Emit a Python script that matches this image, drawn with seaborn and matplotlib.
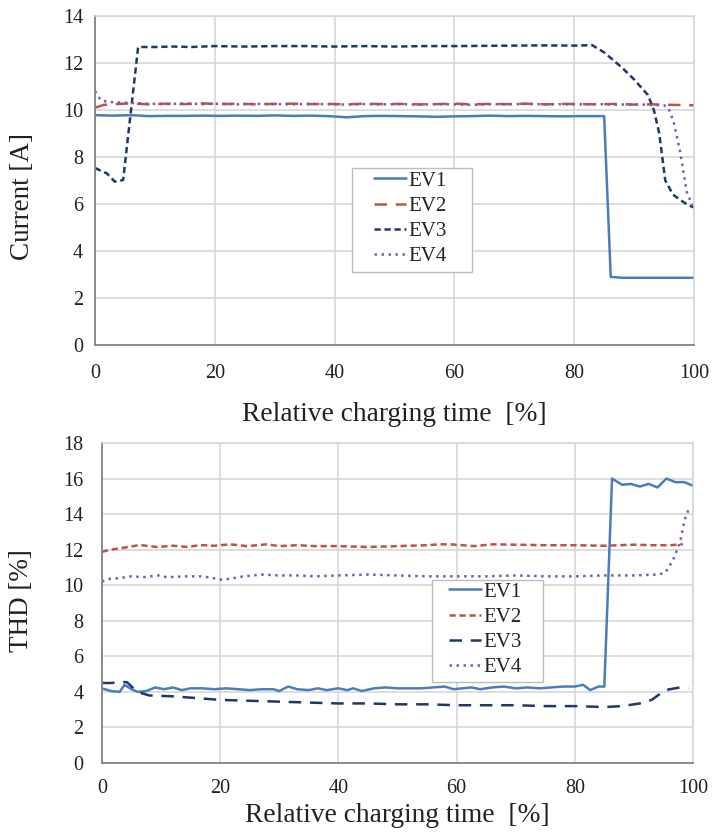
import numpy as np
import pandas as pd
import matplotlib
matplotlib.use("Agg")
import matplotlib.pyplot as plt
from matplotlib.patches import Rectangle
import seaborn as sns

# ---------------- data: top panel (Current [A]) ----------------
cur_ev1_x = [0, 3, 6, 9, 12, 15, 18, 21, 24, 27, 30, 33, 36, 39, 42, 45, 48, 51, 54, 57,
             60, 63, 66, 69, 72, 75, 78, 81, 85, 86.1, 88, 91, 94, 97, 100]
cur_ev1_y = [9.78, 9.76, 9.78, 9.74, 9.75, 9.75, 9.76, 9.75, 9.76, 9.75, 9.77, 9.75, 9.76, 9.74,
             9.69, 9.74, 9.75, 9.74, 9.73, 9.71, 9.73, 9.74, 9.76, 9.74, 9.75, 9.74, 9.73, 9.74,
             9.74, 2.90, 2.86, 2.86, 2.86, 2.86, 2.86]

cur_ev2_x = [0, 1.5, 3, 6, 9, 12, 15, 18, 21, 24, 27, 30, 33, 36, 39, 42, 45, 48, 51, 54, 57,
             60, 63, 66, 69, 72, 75, 78, 81, 84, 87, 90, 93, 96, 100]
cur_ev2_y = [10.1, 10.22, 10.25, 10.28, 10.24, 10.27, 10.25, 10.28, 10.25, 10.27, 10.24, 10.26,
             10.27, 10.25, 10.26, 10.24, 10.27, 10.25, 10.26, 10.24, 10.25, 10.27, 10.24, 10.26,
             10.25, 10.27, 10.24, 10.26, 10.25, 10.24, 10.26, 10.23, 10.24, 10.22, 10.2]

cur_ev3_x = [0, 2, 3.3, 4.7, 7.2, 10, 13, 16, 20, 25, 30, 35, 40, 45, 50, 55, 60, 65, 70, 75,
             80, 83, 85, 88, 90, 92.3, 93.3, 94.2, 95.2, 96.5, 97.7, 99, 100]
cur_ev3_y = [7.53, 7.3, 6.95, 7.02, 12.68, 12.68, 12.7, 12.68, 12.72, 12.7, 12.72, 12.72, 12.7,
             12.72, 12.7, 12.72, 12.72, 12.73, 12.74, 12.75, 12.74, 12.76, 12.45, 11.8, 11.3,
             10.64, 10.0, 9.0, 7.0, 6.4, 6.17, 5.96, 5.85]

cur_ev4_x = [0, 1, 3, 6, 9, 12, 15, 18, 21, 24, 27, 30, 33, 36, 39, 42, 45, 48, 51, 54, 57,
             60, 63, 66, 69, 72, 75, 78, 81, 84, 87, 90, 93, 95, 95.7, 96.6, 97.7, 98.8, 100]
cur_ev4_y = [10.8, 10.4, 10.33, 10.3, 10.27, 10.25, 10.28, 10.25, 10.27, 10.24, 10.26, 10.25,
             10.24, 10.26, 10.25, 10.23, 10.25, 10.24, 10.25, 10.23, 10.25, 10.24, 10.22, 10.25,
             10.24, 10.26, 10.24, 10.25, 10.24, 10.25, 10.23, 10.24, 10.22, 10.2, 10.1, 9.5,
             8.2, 6.5, 5.8]

# ---------------- data: bottom panel (THD [%]) ----------------
thd_ev1_x = [0, 1.5, 3, 3.8, 5, 6, 7.5, 9, 10.5, 12, 13.5, 15, 17, 19, 21, 23, 25, 27, 29,
             30, 31.5, 33, 35, 36.5, 38, 40, 41.5, 42.5, 44, 46, 48, 50, 52, 54, 56, 58, 59.5,
             61, 62.5, 64, 66, 68, 70, 72, 74, 76, 78, 80, 81.4, 82.6, 84, 85, 86.3, 88, 89.5,
             91, 92.5, 94, 95.5, 97, 98.5, 100]
thd_ev1_y = [4.2, 4.05, 4.0, 4.4, 4.15, 4.0, 4.05, 4.25, 4.15, 4.25, 4.1, 4.2, 4.2, 4.15, 4.2,
             4.15, 4.1, 4.15, 4.15, 4.05, 4.3, 4.15, 4.1, 4.2, 4.1, 4.2, 4.1, 4.2, 4.05, 4.2,
             4.25, 4.2, 4.2, 4.2, 4.25, 4.3, 4.15, 4.2, 4.25, 4.15, 4.25, 4.3, 4.2, 4.25, 4.2,
             4.25, 4.3, 4.3, 4.4, 4.1, 4.3, 4.3, 16.0, 15.65, 15.7, 15.55, 15.7, 15.5, 16.0,
             15.8, 15.8, 15.6]

thd_ev2_x = [0, 1.5, 3.5, 6.4, 9.3, 12, 14.5, 16.6, 19, 21.7, 24.5, 27.9, 30, 33, 36, 40, 45,
             50, 52, 55, 57, 59, 61, 63, 66, 70, 75, 80, 85, 90, 93, 96, 98.3]
thd_ev2_y = [11.88, 12.0, 12.1, 12.26, 12.15, 12.22, 12.15, 12.26, 12.22, 12.3, 12.2, 12.3,
             12.2, 12.25, 12.2, 12.2, 12.15, 12.2, 12.22, 12.25, 12.3, 12.3, 12.25, 12.2, 12.3,
             12.28, 12.25, 12.25, 12.22, 12.28, 12.25, 12.25, 12.3]

thd_ev4_x = [0, 1, 3, 5, 7, 9.5, 11, 14, 17, 20.5, 24, 27, 30, 33, 36, 40, 45, 50, 55, 60,
             65, 70, 75, 80, 85, 90, 94, 95.3, 96.6, 97.8, 98.6, 99.3]
thd_ev4_y = [10.2, 10.35, 10.4, 10.5, 10.45, 10.55, 10.45, 10.5, 10.5, 10.3, 10.5, 10.6, 10.55,
             10.55, 10.5, 10.55, 10.6, 10.55, 10.5, 10.5, 10.5, 10.55, 10.5, 10.5, 10.55, 10.55,
             10.6, 10.7, 11.4, 12.4, 13.7, 14.3]

thd_ev3_x = [0, 1.5, 3, 4.2, 6, 8, 12, 16, 20, 25, 30, 35, 40, 45, 50, 55, 60, 65, 70, 75,
             80, 85, 88, 91, 93, 95.3, 98.1, 99.2]
thd_ev3_y = [4.5, 4.5, 4.55, 4.55, 4.0, 3.8, 3.75, 3.65, 3.55, 3.5, 3.45, 3.4, 3.35, 3.35, 3.3,
             3.3, 3.25, 3.25, 3.25, 3.2, 3.2, 3.15, 3.2, 3.35, 3.55, 4.1, 4.27, 4.2]

labels = ["EV1", "EV2", "EV3", "EV4"]
x_ticks = [0, 20, 40, 60, 80, 100]
cur_yticks = [0, 2, 4, 6, 8, 10, 12, 14]
thd_yticks = [0, 2, 4, 6, 8, 10, 12, 14, 16, 18]

# ---------------- style ----------------
sns.set_theme(style="whitegrid")
plt.rcParams["font.family"] = ["Liberation Serif", "DejaVu Serif"]
plt.rcParams["axes.unicode_minus"] = False

c_ev1 = "#4a7ebb"
c_ev2 = "#c0504d"
c_ev3 = "#1f3864"
c_ev4 = "#7b5ca8"
grid_c = "#d4d4d4"
axis_c = "#8a8a8a"
txt_c = "#222222"

W, H = 714, 836
fig = plt.figure(figsize=(W / 100, H / 100), dpi=100)
ax1 = fig.add_axes([95 / W, 1 - 345 / H, 599 / W, 329 / H])
ax2 = fig.add_axes([102 / W, 1 - 763 / H, 591 / W, 320 / H])


def draw(ax, x, y, color, ls, label, lw=1.8):
    sns.lineplot(x=x, y=y, ax=ax, color=color, linestyle=ls, linewidth=lw,
                 label=label, estimator=None, sort=False)


# top
draw(ax1, cur_ev1_x, cur_ev1_y, c_ev1, "-", labels[0])
draw(ax1, cur_ev2_x, cur_ev2_y, c_ev2, (0, (5, 3.5)), labels[1])
draw(ax1, cur_ev3_x, cur_ev3_y, c_ev3, (0, (2.5, 1.5)), labels[2])
draw(ax1, cur_ev4_x, cur_ev4_y, c_ev4, (0, (1, 1.8)), labels[3])

# bottom
draw(ax2, thd_ev1_x, thd_ev1_y, c_ev1, "-", labels[0])
draw(ax2, thd_ev2_x, thd_ev2_y, c_ev2, (0, (2.5, 1.5)), labels[1])
draw(ax2, thd_ev3_x, thd_ev3_y, c_ev3, (0, (5, 3.5)), labels[2])
draw(ax2, thd_ev4_x, thd_ev4_y, c_ev4, (0, (1, 1.8)), labels[3])

panels = [
    # ax, yticks, ylabel, xpad, ypad, xlabel baseline (px), ylabel centre (px)
    (ax1, cur_yticks, "Current [A]", 8.5, 3.5, 421, (23, 196)),
    (ax2, thd_yticks, "THD [%]", 6.5, 8.5, 822, (22, 601)),
]
for ax, yt, ylab, xpad, ypad, xl_base, yl_c in panels:
    ax.set_xlim(0, 100)
    ax.set_ylim(yt[0], yt[-1])
    ax.set_xticks(x_ticks)
    ax.set_yticks(yt)
    ax.grid(True, color=grid_c, linewidth=1.1)
    ax.set_facecolor("white")
    for s in ["top", "right"]:
        ax.spines[s].set_color(grid_c)
        ax.spines[s].set_linewidth(1.1)
    for s in ["left", "bottom"]:
        ax.spines[s].set_color(axis_c)
        ax.spines[s].set_linewidth(1.4)
    ax.tick_params(axis="both", which="major", length=5, width=1.3, color=axis_c,
                   labelsize=14.5, labelcolor=txt_c, direction="out")
    ax.tick_params(axis="x", pad=xpad)
    ax.tick_params(axis="y", pad=ypad)
    ax.set_xlabel("Relative charging time  [%]", fontsize=19.8, color=txt_c)
    ax.set_ylabel(ylab, fontsize=19.5, color=txt_c)
    # place labels in figure pixels
    inv = ax.transAxes.inverted()
    bx, by = inv.transform(fig.transFigure.transform((0.5, 1 - xl_base / H)))
    ax.xaxis.set_label_coords(0.5, by)
    ax.xaxis.label.set_verticalalignment("baseline")
    lx, ly = inv.transform(fig.transFigure.transform((yl_c[0] / W, 1 - yl_c[1] / H)))
    ax.yaxis.set_label_coords(lx, ly)
    ax.yaxis.label.set_verticalalignment("center")

# legends: frameless legend placed over a drawn box (Excel-like padding)
leg_kw = dict(fontsize=15, frameon=False, handlelength=1.55, handletextpad=0.12,
              borderpad=0, labelspacing=0.27, borderaxespad=0)
legend_boxes = [
    # ax, box (x0, y0, x1, y1) px, handle start x px, first row top px
    (ax1, (352, 168, 472, 272), 374, 171),
    (ax2, (432, 580, 543, 682), 449, 582),
]
for ax, (x0, y0, x1, y1), hx, ty in legend_boxes:
    rect = Rectangle((x0 / W, 1 - y1 / H), (x1 - x0) / W, (y1 - y0) / H,
                     transform=fig.transFigure, facecolor="white", edgecolor="#bdbdbd",
                     linewidth=1.0, zorder=4.5, clip_on=False)
    ax.add_artist(rect)
    leg = ax.legend(loc="upper left", bbox_to_anchor=(hx / W, 1 - ty / H),
                    bbox_transform=fig.transFigure, **leg_kw)
    leg.set_zorder(5)
    for t in leg.get_texts():
        t.set_color(txt_c)

fig.savefig("out.png", dpi=100, facecolor="white")
